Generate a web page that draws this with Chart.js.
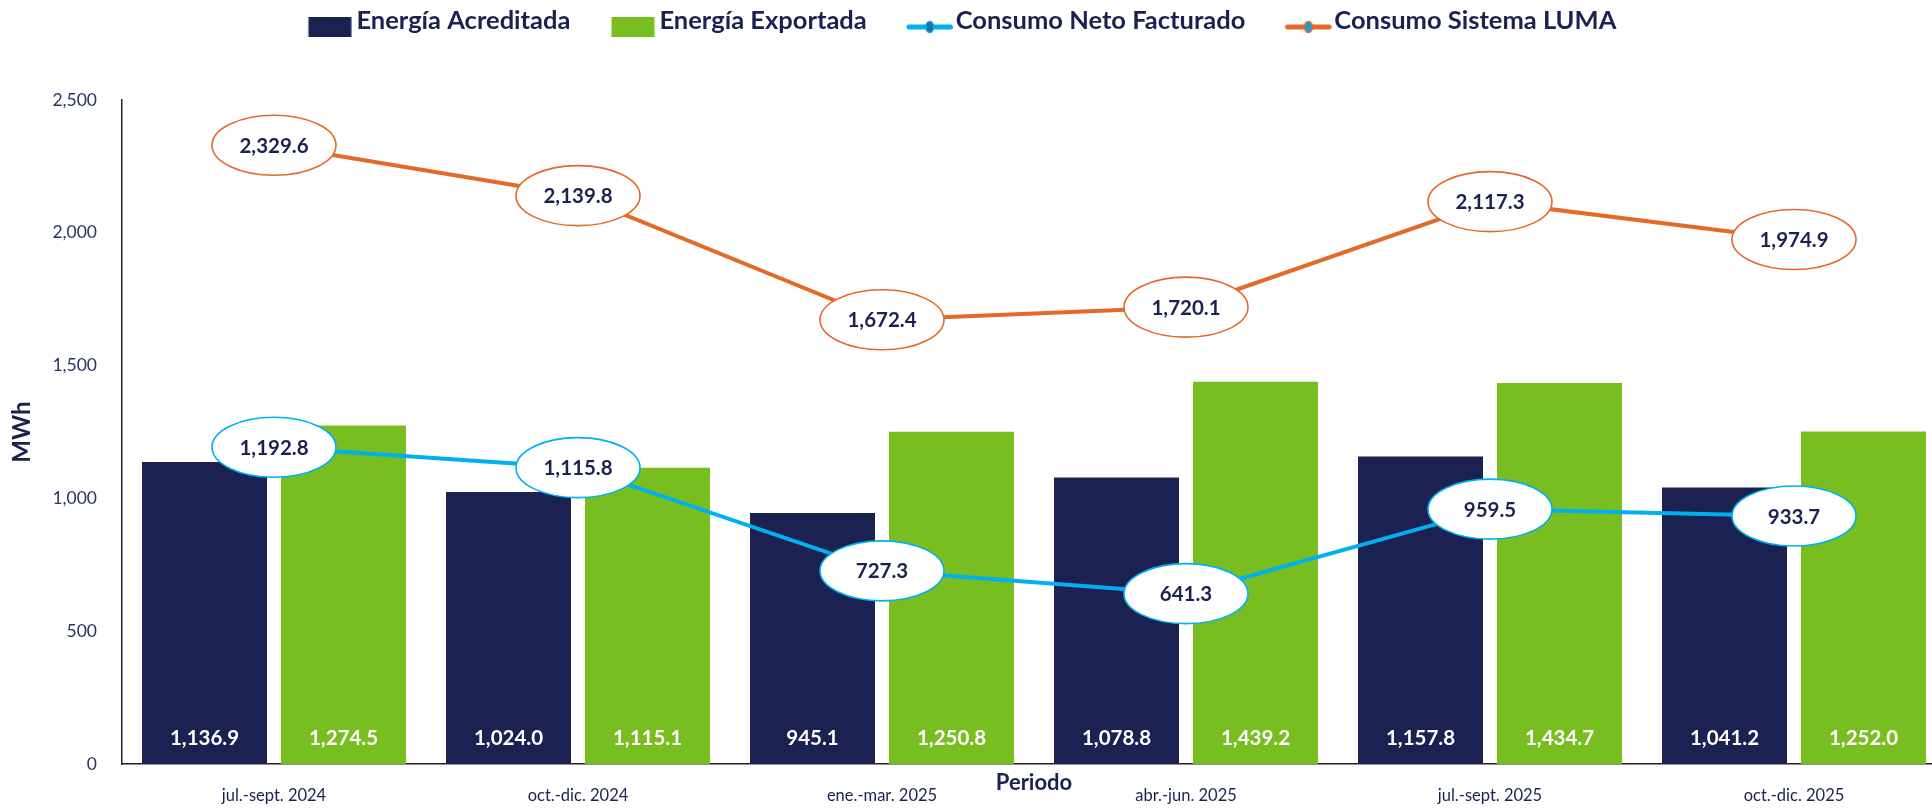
<!DOCTYPE html>
<html>
<head>
<meta charset="utf-8">
<script src="https://cdn.jsdelivr.net/npm/chart.js@4.4.1/dist/chart.umd.min.js"></script>
<style>
  html, body { margin: 0; padding: 0; background: #ffffff; overflow: hidden; width: 1932px; height: 809px; }
  #wrap { position: absolute; left: -54px; top: 0; width: 2000px; height: 809px; }
</style>
</head>
<body>
<div id="wrap"><canvas id="c"></canvas></div>
<script>
const categories = ['jul.-sept. 2024', 'oct.-dic. 2024', 'ene.-mar. 2025', 'abr.-jun. 2025', 'jul.-sept. 2025', 'oct.-dic. 2025'];
const energiaAcreditada = [1136.9, 1024.0, 945.1, 1078.8, 1157.8, 1041.2];
const energiaExportada = [1274.5, 1115.1, 1250.8, 1439.2, 1434.7, 1252.0];
const consumoNetoFacturado = [1192.8, 1115.8, 727.3, 641.3, 959.5, 933.7];
const consumoSistemaLuma = [2329.6, 2139.8, 1672.4, 1720.1, 2117.3, 1974.9];
const yTickValues = [0, 500, 1000, 1500, 2000, 2500];
const seriesNames = ['Energía Acreditada', 'Energía Exportada', 'Consumo Neto Facturado', 'Consumo Sistema LUMA'];

const NAVY = '#1B2150';
const GREEN = '#78BE20';
const BLUE = '#00B0F0';
const ORANGE = '#E26B2A';
const TEXT = '#1B2150';
const TICK = '#2B3560';
const FONT = 'Lato, "Open Sans", sans-serif';

const fmt = v => v.toLocaleString('en-US', {minimumFractionDigits: 1, maximumFractionDigits: 1});

function barIcon(color) {
  const c = document.createElement('canvas');
  c.width = 100; c.height = 40;
  const g = c.getContext('2d');
  g.fillStyle = color;
  g.fillRect(48.75, 16, 43, 20);
  return c;
}
function lineIcon(lineColor, dotColor) {
  const c = document.createElement('canvas');
  c.width = 100; c.height = 40;
  const g = c.getContext('2d');
  g.strokeStyle = lineColor;
  g.lineWidth = 5;
  g.lineCap = 'round';
  g.beginPath(); g.moveTo(50, 26); g.lineTo(91.5, 26); g.stroke();
  g.fillStyle = dotColor;
  g.strokeStyle = lineColor;
  g.lineWidth = 1.5;
  g.beginPath(); g.ellipse(70.75, 26, 4, 5.5, 0, 0, Math.PI * 2); g.fill(); g.stroke();
  return c;
}
const legendIcons = [barIcon(NAVY), barIcon(GREEN), lineIcon(BLUE, '#1E6FA5'), lineIcon(ORANGE, '#1E9BD7')];

const legendSpace = {
  id: 'legendSpace',
  beforeLayout(chart) {
    const lg = chart.legend;
    if (lg && !lg._patched) {
      const f = lg.fit;
      lg.fit = function () { f.call(this); this.height = 100; };
      lg._patched = true;
    }
  }
};

const valueLabels = {
  id: 'valueLabels',
  afterDatasetsDraw(chart) {
    const ctx = chart.ctx;
    const area = chart.chartArea;
    ctx.save();
    chart.data.datasets.forEach((ds, i) => {
      const meta = chart.getDatasetMeta(i);
      meta.data.forEach((el, j) => {
        const txt = fmt(ds.data[j]);
        ctx.font = 'bold 20.5px ' + FONT;
        ctx.textAlign = 'center';
        ctx.textBaseline = 'middle';
        if (ds.type === 'bar') {
          ctx.fillStyle = '#ffffff';
          ctx.fillText(txt, el.x, area.bottom - 26);
        } else {
          ctx.beginPath();
          ctx.ellipse(el.x, el.y, 62, 30, 0, 0, Math.PI * 2);
          ctx.fillStyle = '#ffffff';
          ctx.fill();
          ctx.lineWidth = 1.6;
          ctx.strokeStyle = ds.borderColor;
          ctx.stroke();
          ctx.fillStyle = TEXT;
          ctx.fillText(txt, el.x, el.y + 1);
        }
      });
    });
    ctx.restore();
  }
};

function build() {
  new Chart(document.getElementById('c'), {
    type: 'bar',
    data: {
      labels: categories,
      datasets: [
        { type: 'bar', label: seriesNames[0], data: energiaAcreditada, backgroundColor: NAVY, order: 2,
          categoryPercentage: 0.9145, barPercentage: 0.8993 },
        { type: 'bar', label: seriesNames[1], data: energiaExportada, backgroundColor: GREEN, order: 2,
          categoryPercentage: 0.9145, barPercentage: 0.8993 },
        { type: 'line', label: seriesNames[2], data: consumoNetoFacturado, borderColor: BLUE, backgroundColor: BLUE,
          borderWidth: 4, pointRadius: 0, pointHoverRadius: 0, tension: 0, fill: false, order: 1 },
        { type: 'line', label: seriesNames[3], data: consumoSistemaLuma, borderColor: ORANGE, backgroundColor: ORANGE,
          borderWidth: 4, pointRadius: 0, pointHoverRadius: 0, tension: 0, fill: false, order: 1 }
      ]
    },
    options: {
      responsive: true,
      maintainAspectRatio: false,
      animation: false,
      layout: { padding: 0 },
      plugins: {
        tooltip: { enabled: false },
        legend: {
          position: 'top',
          align: 'center',
          labels: {
            usePointStyle: true,
            pointStyleWidth: 68,
            padding: 8.25,
            color: TEXT,
            font: { family: FONT, size: 25.5, weight: 'bold' },
            generateLabels: (chart) => chart.data.datasets.map((ds, i) => ({
              text: ds.label,
              pointStyle: legendIcons[i],
              fillStyle: 'rgba(0,0,0,0)',
              strokeStyle: 'rgba(0,0,0,0)',
              lineWidth: 0,
              fontColor: TEXT,
              hidden: false,
              datasetIndex: i
            }))
          }
        }
      },
      scales: {
        x: {
          grid: { display: false, drawTicks: false },
          border: { display: true, color: '#222222', width: 1.5 },
          ticks: { color: TEXT, font: { family: FONT, size: 16.5 }, padding: 22, autoSkip: false, maxRotation: 0 },
          title: { display: true, text: 'Periodo', color: TEXT, font: { family: FONT, size: 22, weight: 'bold' },
                   padding: { top: 0, bottom: 12.8 } },
          afterFit: (s) => { s.height = 45; }
        },
        y: {
          min: 0, max: 2500,
          grid: { display: false, drawTicks: false },
          border: { display: true, color: '#222222', width: 1.5 },
          afterBuildTicks: (s) => { s.ticks = yTickValues.map(v => ({ value: v })); },
          ticks: { color: TICK, font: { family: FONT, size: 17.5 }, padding: 25,
                   callback: (v) => Number(v).toLocaleString('en-US') },
          title: { display: true, text: 'MWh', color: TEXT, font: { family: FONT, size: 24, weight: 'bold' },
                   padding: { top: 61.6, bottom: 0 } },
          afterFit: (s) => { s.width = 176; }
        }
      }
    },
    plugins: [legendSpace, valueLabels]
  });
}
if (document.fonts && document.fonts.load) {
  Promise.all([document.fonts.load('bold 20px Lato'), document.fonts.load('16px Lato')]).then(build, build);
} else { build(); }
</script>
</body>
</html>
